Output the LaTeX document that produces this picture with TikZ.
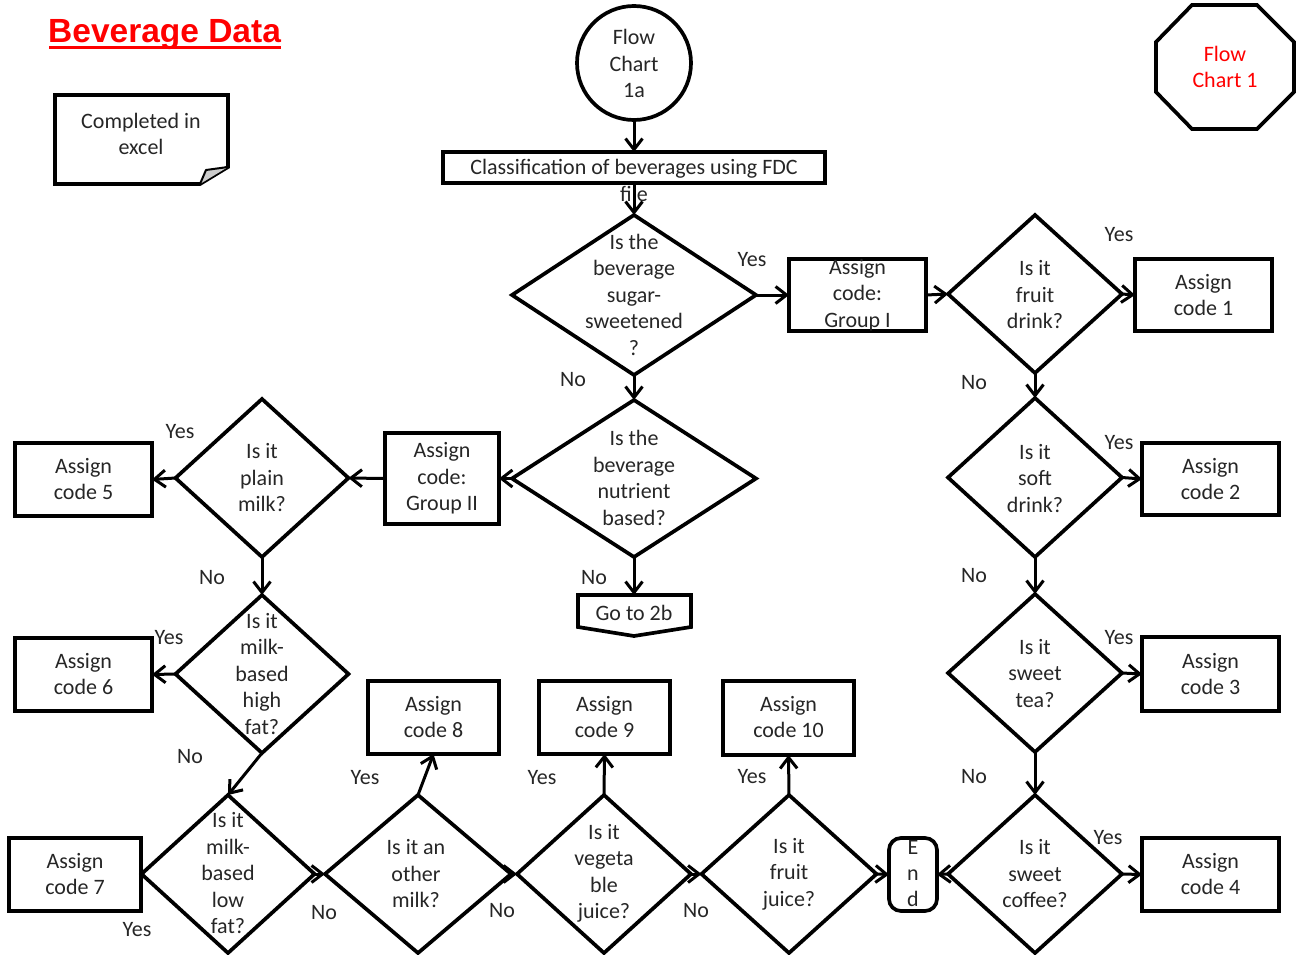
\documentclass[tikz,border=0pt]{standalone}
\usepackage{fontspec}
\setmainfont{Carlito}
\newfontfamily\titlefont{Liberation Sans}
\usetikzlibrary{shapes.geometric,arrows.meta}

\begin{document}
\begin{tikzpicture}[x=1pt,y=-1pt,
  every node/.style={font=\fontsize{22}{26.5}\selectfont, text=black!85},
  outl/.style={line width=3.7pt, line join=miter},
  dia/.style 2 args={diamond, draw, outl, inner sep=0pt, outer sep=0pt,
    minimum width=#1, minimum height=#2},
  box/.style 2 args={rectangle, draw, outl, inner sep=0pt, outer sep=0pt,
    minimum width=#1, minimum height=#2},
  txt/.style={align=center, inner sep=0pt},
  lbl/.style={inner sep=0pt},
  arr/.style={line width=3pt, -{Straight Barb[length=11pt,width=17pt,line width=3pt]}},
]
\useasboundingbox (0,0) rectangle (1301,955);

% ---------- title and notes ----------
\node[lbl, anchor=base west, text=red,
  font=\titlefont\bfseries\fontsize{33.5}{36}\selectfont]
  (title) at (48,43) {Beverage Data};
\draw[red, line width=2.5pt] (title.base west) ++(1,4.5) -- ++(232,0);

\draw[outl] (55,95) -- (228,95) -- (228,167) -- (200,184) -- (55,184) -- cycle;
\draw[line width=2pt, fill=black!20, line join=round]
  (200,184) -- (206,170) -- (228,167);
\node[txt] (note) at (141,134) {Completed in\\excel};

\draw[outl] (1192,5) -- (1257,5) -- (1294,42) -- (1294,92) -- (1257,129)
  -- (1192,129) -- (1156,92) -- (1156,42) -- cycle;
\node[txt, text=red] (fc1) at (1225,67) {Flow\\Chart 1};

% ---------- start ----------
\node[circle, draw, outl, inner sep=0pt, outer sep=0pt, minimum size=114]
  (circ) at (634,63) {};
\node[txt] (circt) at (634,63.5) {Flow\\Chart\\1a};

\node[box={382}{31}] (cls) at (634,167.5) {};
\node[txt] (clst) at (634,180.5) {Classification of beverages using FDC\\file};

% ---------- decisions ----------
\node[dia={244}{160}] (d1) at (634,295) {};
\node[txt] (d1t) at (634,294.5) {Is the\\beverage\\sugar-\\sweetened\\?};

\node[dia={244}{157}] (d6) at (634,478.5) {};
\node[txt] (d6t) at (634,478) {Is the\\beverage\\nutrient\\based?};

\node[dia={174}{158}] (d2) at (1035,294) {};
\node[txt] (d2t) at (1035,295) {Is it\\fruit\\drink?};
\node[dia={174}{159}] (d3) at (1035,477.5) {};
\node[txt] (d3t) at (1035,478.5) {Is it\\soft\\drink?};
\node[dia={174}{158}] (d4) at (1035,673) {};
\node[txt] (d4t) at (1035,673.5) {Is it\\sweet\\tea?};
\node[dia={174}{158}] (d5) at (1035,874) {};
\node[txt] (d5t) at (1035,873.5) {Is it\\sweet\\coffee?};

\node[dia={173}{158}] (d7) at (262,478) {};
\node[txt] (d7t) at (262,478) {Is it\\plain\\milk?};
\node[dia={173}{158}] (d8) at (262,674) {};
\node[txt] (d8t) at (262,674) {Is it\\milk-\\based\\high\\fat?};
\node[dia={173}{158}] (d9) at (228,874) {};
\node[txt] (d9t) at (228,873.5) {Is it\\milk-\\based\\low\\fat?};
\node[dia={186}{158}] (d10) at (418,874) {};
\node[txt] (d10t) at (416,873.5) {Is it an\\other\\milk?};
\node[dia={174}{158}] (d11) at (604,874) {};
\node[txt] (d11t) at (604,873.5) {Is it\\vegeta\\ble\\juice?};
\node[dia={175}{158}] (d12) at (789,874) {};
\node[txt] (d12t) at (789,874) {Is it\\fruit\\juice?};

% ---------- process boxes ----------
\node[box={137}{72}] (g1) at (857.5,295) {};
\node[txt] (g1t) at (857.5,295) {Assign\\code:\\Group I};
\node[box={114}{91}] (g2) at (442,478.5) {};
\node[txt] (g2t) at (442,478.5) {Assign\\code:\\Group II};

\node[box={137}{72}] (b1) at (1203.5,295) {};
\node[txt] (b1t) at (1203.5,295) {Assign\\code 1};
\node[box={137}{72}] (b2) at (1210.5,479) {};
\node[txt] (b2t) at (1210.5,479) {Assign\\code 2};
\node[box={137}{74}] (b3) at (1210.5,674) {};
\node[txt] (b3t) at (1210.5,674) {Assign\\code 3};
\node[box={137}{73}] (b4) at (1210.5,874.5) {};
\node[txt] (b4t) at (1210.5,874) {Assign\\code 4};
\node[box={137}{73}] (b5) at (83.5,479.5) {};
\node[txt] (b5t) at (83.5,479) {Assign\\code 5};
\node[box={137}{73}] (b6) at (83.5,674.5) {};
\node[txt] (b6t) at (83.5,674) {Assign\\code 6};
\node[box={132}{73}] (b7) at (75,874.5) {};
\node[txt] (b7t) at (75,874) {Assign\\code 7};
\node[box={131}{73}] (b8) at (433.5,717.5) {};
\node[txt] (b8t) at (433.5,717) {Assign\\code 8};
\node[box={131}{73}] (b9) at (604.5,717.5) {};
\node[txt] (b9t) at (604.5,717) {Assign\\code 9};
\node[box={131}{74}] (b10) at (788.5,718) {};
\node[txt] (b10t) at (788.5,717) {Assign\\code 10};

% ---------- off-page connector and terminator ----------
\draw[outl] (578,595) -- (691,595) -- (691,627) -- (634,636) -- (578,627) -- cycle;
\coordinate (goto) at (634,595);
\node[lbl] (gotot) at (634,613) {Go to 2b};

\node[rectangle, draw, outl, rounded corners=12pt, inner sep=0pt, outer sep=0pt,
  minimum width=48, minimum height=73] (end) at (913,874.5) {};
\node[txt, font=\fontsize{22}{26}\selectfont] (endt) at (913,874) {E\\n\\d};

% ---------- connectors ----------
\draw[arr] (circ.south) -- (cls.north);
\draw[arr] (cls.south) -- (d1.north);
\draw[arr] (d1.east) -- (g1.west);
\draw[arr] (g1.east) -- (d2.west);
\draw[arr] (d2.east) -- (b1.west);
\draw[arr] (d2.south) -- (d3.north);
\draw[arr] (d3.east) -- (b2.west);
\draw[arr] (d3.south) -- (d4.north);
\draw[arr] (d4.east) -- (b3.west);
\draw[arr] (d4.south) -- (d5.north);
\draw[arr] (d5.east) -- (b4.west);
\draw[arr] (d5.west) -- (end.east);
\draw[arr] (d1.south) -- (d6.north);
\draw[arr] (d6.west) -- (g2.east);
\draw[arr] (d6.south) -- (goto);
\draw[arr] (g2.west) -- (d7.east);
\draw[arr] (d7.west) -- (b5.east);
\draw[arr] (d7.south) -- (d8.north);
\draw[arr] (d8.west) -- (b6.east);
\draw[arr] (d8.south) -- (d9.north);
\draw[arr] (d9.east) -- (d10.west);
\draw[arr] (d10.north) -- (b8.south);
\draw[arr] (d10.east) -- (d11.west);
\draw[arr] (d11.north) -- (b9.south);
\draw[arr] (d11.east) -- (d12.west);
\draw[arr] (d12.north) -- (b10.south);
\draw[arr] (d12.east) -- (end.west);

% ---------- branch labels ----------
\node[lbl] (l1) at (752,260) {Yes};
\node[lbl] (l2) at (573,380) {No};
\node[lbl] (l3) at (1119,235) {Yes};
\node[lbl] (l4) at (974,383) {No};
\node[lbl] (l5) at (1119,443) {Yes};
\node[lbl] (l6) at (974,576) {No};
\node[lbl] (l7) at (1119,638) {Yes};
\node[lbl] (l8) at (974,777) {No};
\node[lbl] (l9) at (1108,838) {Yes};
\node[lbl] (l10) at (180,432) {Yes};
\node[lbl] (l11) at (212,578) {No};
\node[lbl] (l12) at (169,638) {Yes};
\node[lbl] (l13) at (190,757) {No};
\node[lbl] (l14) at (137,930) {Yes};
\node[lbl] (l15) at (324,913) {No};
\node[lbl] (l16) at (365,778) {Yes};
\node[lbl] (l17) at (502,911) {No};
\node[lbl] (l18) at (542,778) {Yes};
\node[lbl] (l19) at (696,911) {No};
\node[lbl] (l20) at (752,777) {Yes};
\node[lbl] (l21) at (594,578) {No};
\end{tikzpicture}
\end{document}
